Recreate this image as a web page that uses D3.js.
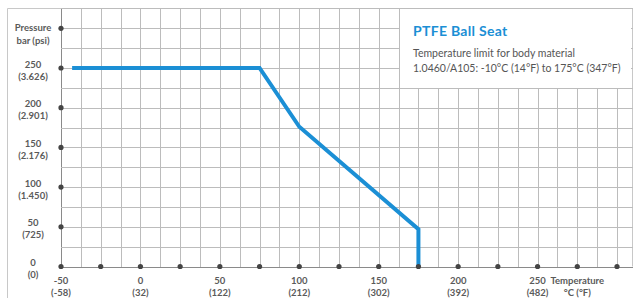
<!DOCTYPE html>
<html lang="en">
<head>
    <meta charset="UTF-8">
    <title>PTFE Ball Seat pressure / temperature</title>
    <script src="https://d3js.org/d3.v7.min.js"></script>
    <style>
        body { margin: 0; background: #fff; }
        svg { display: block; font-family: Lato, "Open Sans", sans-serif; }
        .lbl { fill: #5a5a5a; font-size: 9.5px; font-weight: bold; text-anchor: middle; }
        .dot { fill: #444; }
    </style>
</head>
<body>
    <script>
        // chart data
        const temps = [-43, 75, 100, 175, 175];       // °C
        const pressures = [250, 250, 176, 47, 0];     // bar

        const xTicks = [-50, 0, 50, 100, 150, 200, 250];
        const xTickF = ['(-58)', '(32)', '(122)', '(212)', '(302)', '(392)', '(482)'];
        const yTicks = [0, 50, 100, 150, 200, 250];
        const yTickPsi = ['(0)', '(725)', '(1.450)', '(2.176)', '(2.901)', '(3.626)'];

        const title = 'PTFE Ball Seat';
        const note = ['Temperature limit for body material', '1.0460/A105: -10°C (14°F) to 175°C (347°F)'];

        const W = 633, H = 298;

        const svg = d3.select('body')
                      .append('svg')
                      .attr('width', W)
                      .attr('height', H);

        const xScale = d3.scaleLinear()
                         .domain([-50, 300])
                         .range([61, 617]);

        const yScale = d3.scaleLinear()
                         .domain([0, 250])
                         .range([266.5, 68]);

        const xMax = 309;
        const yMax = 325;
        const gridX = d3.range(-50, xMax, 12.5);
        const gridY = d3.range(0, yMax + 1, 25);

        // outer frame
        svg.append('path')
           .attr('fill', 'none')
           .attr('stroke', '#c8c8c8')
           .attr('stroke-width', 1)
           .attr('d', `M7.5,${H}V8.5H632.5V266.5`);

        // grid
        svg.selectAll('line.v')
           .data(gridX)
           .enter().append('line')
           .attr('class', 'v')
           .attr('x1', d => Math.round(xScale(d)) + 0.5)
           .attr('x2', d => Math.round(xScale(d)) + 0.5)
           .attr('y1', 8)
           .attr('y2', 267)
           .attr('stroke', d => d === -50 ? '#8a8a8a' : '#bcbcbc')
           .attr('stroke-width', 1);
        svg.selectAll('line.h')
           .data(gridY)
           .enter().append('line')
           .attr('class', 'h')
           .attr('x1', 61)
           .attr('x2', 633)
           .attr('y1', d => Math.round(yScale(d)) + 0.5)
           .attr('y2', d => Math.round(yScale(d)) + 0.5)
           .attr('stroke', d => d === 0 ? '#8a8a8a' : '#bcbcbc')
           .attr('stroke-width', 1);

        // info box
        svg.append('rect')
           .attr('x', Math.round(xScale(162.5)) + 1)
           .attr('y', 9)
           .attr('width', 231)
           .attr('height', Math.round(yScale(225)) - 9)
           .attr('fill', '#fff');

        svg.append('text')
           .attr('x', 413)
           .attr('y', 36)
           .attr('fill', '#1b8fd5')
           .style('font-size', '14px')
           .style('font-weight', 'bold')
           .style('letter-spacing', '0.3px')
           .text(title);

        svg.selectAll('text.note')
           .data(note)
           .enter().append('text')
           .attr('class', 'note')
           .attr('x', 413)
           .attr('y', (d, i) => 57 + i * 15)
           .attr('fill', '#555')
           .style('font-size', '10.5px')
           .text(d => d);

        // pressure / temperature curve
        svg.append('path')
           .datum(temps.map((t, i) => [t, pressures[i]]))
           .attr('fill', 'none')
           .attr('stroke', '#1b8fd5')
           .attr('stroke-width', 4)
           .attr('d', d3.line()
               .x(d => xScale(d[0]))
               .y(d => yScale(d[1])));

        // axis dots
        svg.selectAll('circle.xdot')
           .data(d3.range(-50, 301, 25))
           .enter().append('circle')
           .attr('class', 'dot xdot')
           .attr('cx', d => xScale(d))
           .attr('cy', yScale(0))
           .attr('r', 2.6);
        svg.selectAll('circle.ydot')
           .data(d3.range(50, 301, 50))
           .enter().append('circle')
           .attr('class', 'dot ydot')
           .attr('cx', xScale(-50))
           .attr('cy', d => yScale(d))
           .attr('r', 2.6);

        // y labels
        yTicks.forEach((v, i) => {
            const y = yScale(v);
            svg.append('text').attr('class', 'lbl').attr('x', 33).attr('y', y - 0.5).text(v);
            svg.append('text').attr('class', 'lbl').attr('x', 33).attr('y', y + 11.5).text(yTickPsi[i]);
        });
        svg.append('text').attr('class', 'lbl').attr('x', 33).attr('y', yScale(300) + 2.5).text('Pressure');
        svg.append('text').attr('class', 'lbl').attr('x', 33).attr('y', yScale(300) + 15.5).text('bar (psi)');

        // x labels
        xTicks.forEach((v, i) => {
            const x = xScale(v);
            svg.append('text').attr('class', 'lbl').attr('x', x).attr('y', 283.5).text(v);
            svg.append('text').attr('class', 'lbl').attr('x', x).attr('y', 295.5).text(xTickF[i]);
        });
        svg.append('text').attr('class', 'lbl').attr('x', xScale(275)).attr('y', 283.5).text('Temperature');
        svg.append('text').attr('class', 'lbl').attr('x', xScale(275)).attr('y', 295.5).text('°C (°F)');
    </script>
</body>
</html>
